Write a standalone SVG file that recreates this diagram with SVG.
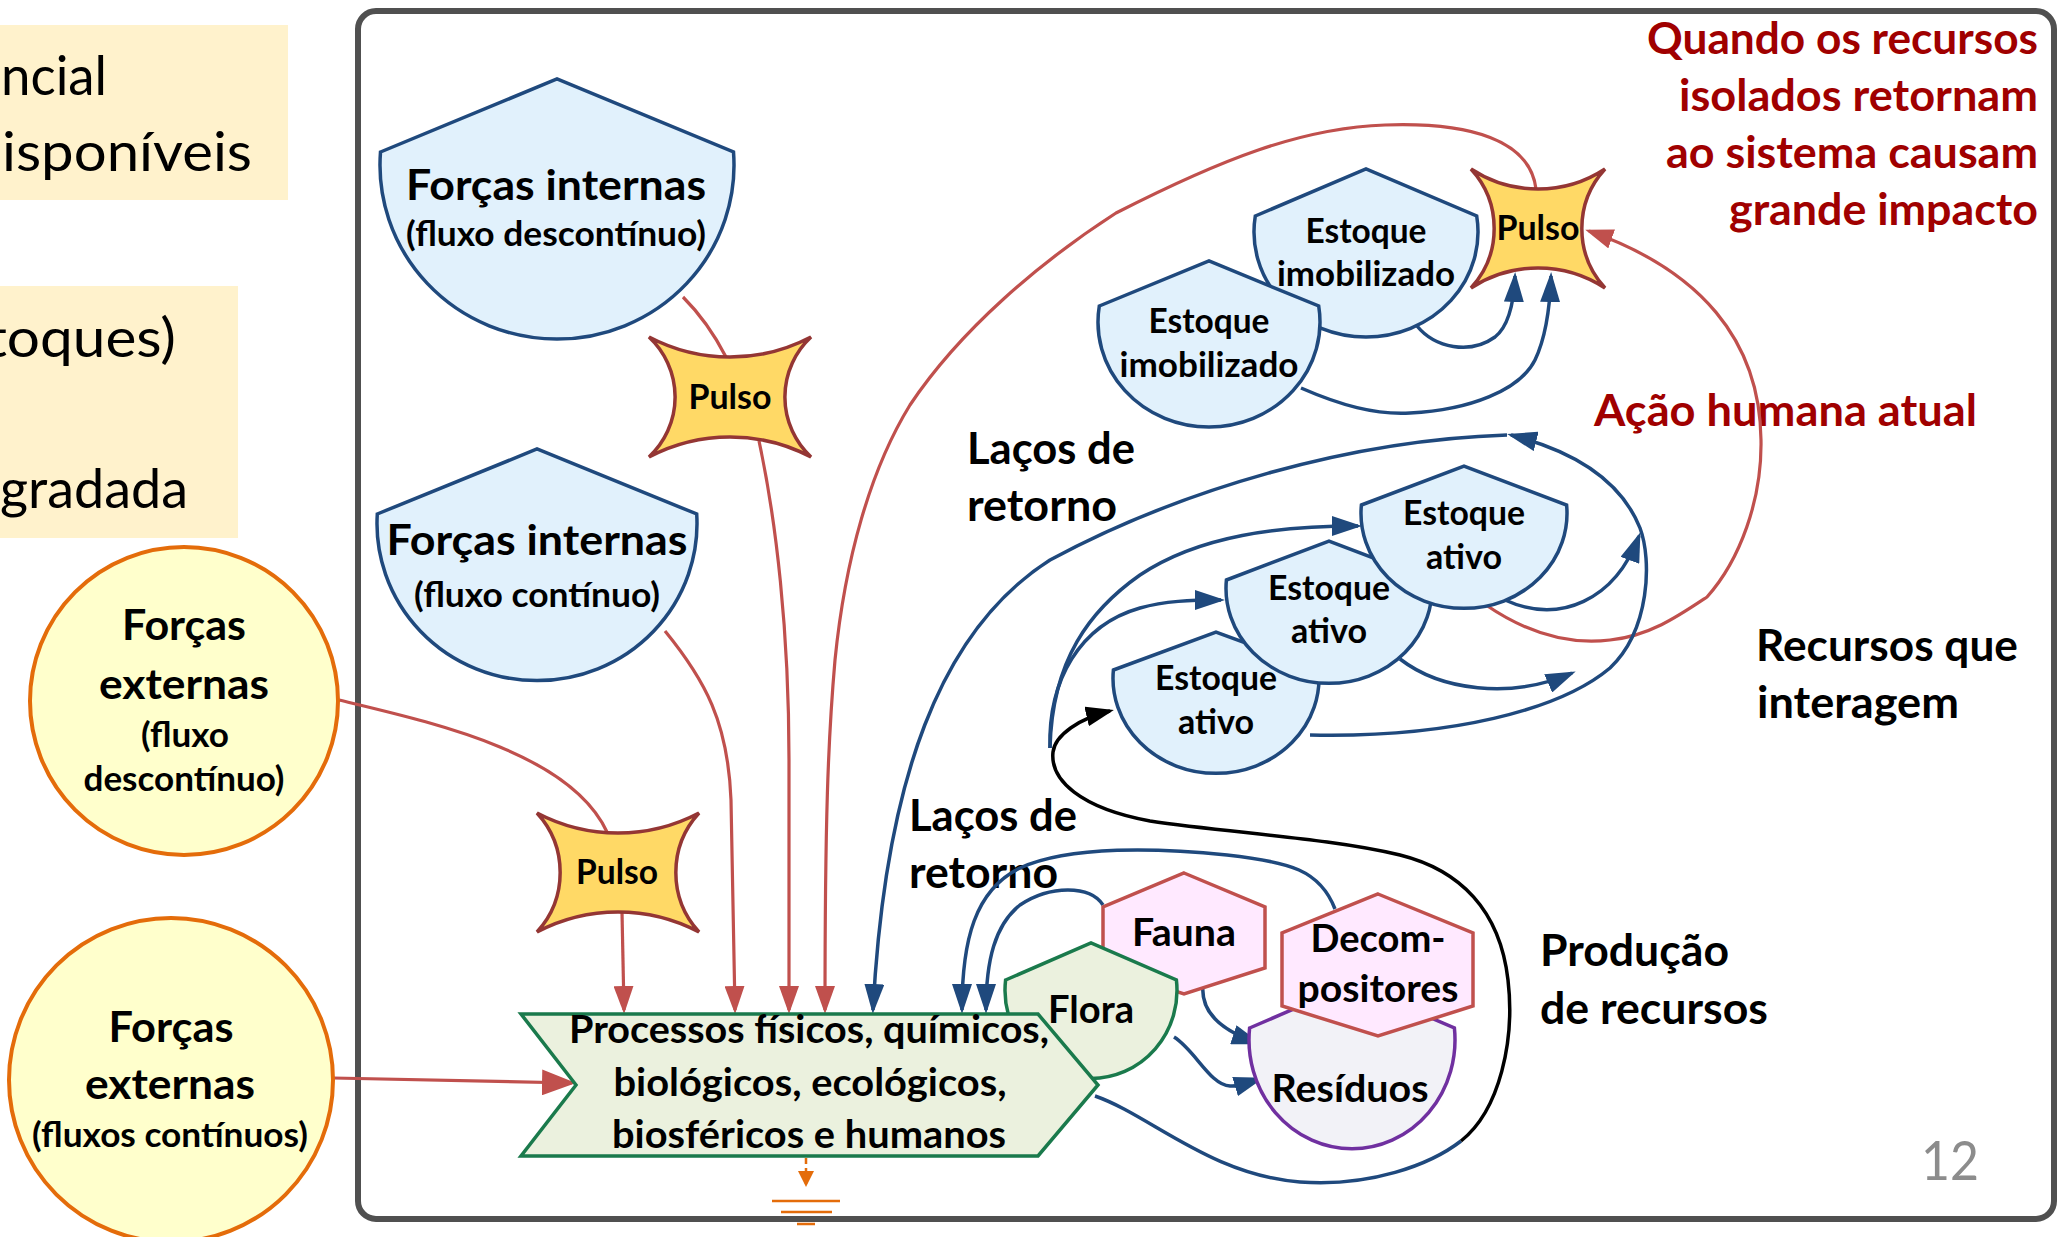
<svg xmlns="http://www.w3.org/2000/svg" width="2059" height="1237" viewBox="0 0 2059 1237">
  <defs>
    <style>
      .t { font-family: Lato, 'Open Sans', 'Liberation Sans', sans-serif; font-weight: 700; fill: #000; }
      .reg { font-family: Lato, 'Open Sans', 'Liberation Sans', sans-serif; font-weight: 400; fill: #000; }
      .lbl { font-size: 44px; }
      .s41 { font-size: 42.5px; }
      .s38 { font-size: 39px; }
      .s37 { font-size: 38.5px; }
      .s33 { font-size: 34.5px; }
      .dark-red { fill: #A00000; }
      .blueNode { fill: #E1F1FC; stroke: #1F497D; stroke-width: 3.5; }
      .extNode { fill: #FFFFCC; stroke: #E46C0A; stroke-width: 4; }
      .pulse { fill: #FFD966; stroke: #943634; stroke-width: 3.5; stroke-linejoin: miter; }
      .greenNode { fill: #EBF1DE; stroke: #1A7A4C; stroke-width: 3.5; }
      .pinkNode { fill: #FFE9FF; stroke: #C0504D; stroke-width: 3.5; }
      .wasteNode { fill: #F2F2F7; stroke: #7030A0; stroke-width: 3.5; }
      .note { fill: #FFF2CC; }
      .red { fill: none; stroke: #C0504D; stroke-width: 3.2; }
      .blue { fill: none; stroke: #1F497D; stroke-width: 3.5; }
      .black { fill: none; stroke: #000; stroke-width: 3.5; }
      .orange { fill: none; stroke: #E46C0A; stroke-width: 2.5; }
    </style>
    <marker id="aR" viewBox="0 0 28 20" markerWidth="28" markerHeight="20" refX="24" refY="10" orient="auto" markerUnits="userSpaceOnUse">
      <path d="M0,0 L28,10 L0,20 Z" fill="#C0504D"/>
    </marker>
    <marker id="aRbig" viewBox="0 0 34 26" markerWidth="34" markerHeight="26" refX="30" refY="13" orient="auto" markerUnits="userSpaceOnUse">
      <path d="M0,0 L34,13 L0,26 Z" fill="#C0504D"/>
    </marker>
    <marker id="aB" viewBox="0 0 30 20" markerWidth="30" markerHeight="20" refX="26" refY="10" orient="auto" markerUnits="userSpaceOnUse">
      <path d="M0,0 L30,10 L0,20 Z" fill="#1F497D"/>
    </marker>
    <marker id="aK" viewBox="0 0 28 20" markerWidth="28" markerHeight="20" refX="24" refY="10" orient="auto" markerUnits="userSpaceOnUse">
      <path d="M0,0 L28,10 L0,20 Z" fill="#000"/>
    </marker>
    <marker id="aO" viewBox="0 0 16 16" markerWidth="16" markerHeight="16" refX="14" refY="8" orient="auto" markerUnits="userSpaceOnUse">
      <path d="M0,0 L16,8 L0,16 Z" fill="#E46C0A"/>
    </marker>
  </defs>

  <rect width="2059" height="1237" fill="#fff"/>

  <!-- side notes, cut by the left edge -->
  <g id="side-notes">
    <rect class="note" x="0" y="25" width="288" height="175"/>
    <rect class="note" x="0" y="286" width="238" height="252"/>
    <text class="reg" font-size="54" x="1" y="95" textLength="106" lengthAdjust="spacingAndGlyphs">ncial</text>
    <text class="reg" font-size="54" x="2" y="171" textLength="250" lengthAdjust="spacingAndGlyphs">isponíveis</text>
    <text class="reg" font-size="54" x="-14" y="357" textLength="190" lengthAdjust="spacingAndGlyphs">toques)</text>
    <text class="reg" font-size="54" x="0" y="508" textLength="188" lengthAdjust="spacingAndGlyphs">gradada</text>
  </g>

  <!-- system boundary -->
  <rect id="frame" x="358" y="11" width="1696" height="1208" rx="18" fill="none" stroke="#505050" stroke-width="6"/>

  <!-- free labels -->
  <g id="labels">
    <text class="t lbl" x="967" y="464" textLength="168" lengthAdjust="spacingAndGlyphs">Laços de</text>
    <text class="t lbl" x="967" y="521" textLength="150" lengthAdjust="spacingAndGlyphs">retorno</text>
    <text class="t lbl" x="909" y="831" textLength="168" lengthAdjust="spacingAndGlyphs">Laços de</text>
    <text class="t lbl" x="909" y="888" textLength="149" lengthAdjust="spacingAndGlyphs">retorno</text>
    <text class="t lbl" x="1756" y="661" textLength="262" lengthAdjust="spacingAndGlyphs">Recursos que</text>
    <text class="t lbl" x="1757" y="718" textLength="202" lengthAdjust="spacingAndGlyphs">interagem</text>
    <text class="t lbl" x="1540" y="966" textLength="189" lengthAdjust="spacingAndGlyphs">Produção</text>
    <text class="t lbl" x="1540" y="1024" textLength="228" lengthAdjust="spacingAndGlyphs">de recursos</text>
    <text class="t lbl dark-red" x="2038" y="54" text-anchor="end" textLength="391" lengthAdjust="spacingAndGlyphs">Quando os recursos</text>
    <text class="t lbl dark-red" x="2038" y="111" text-anchor="end" textLength="359" lengthAdjust="spacingAndGlyphs">isolados retornam</text>
    <text class="t lbl dark-red" x="2038" y="168" text-anchor="end" textLength="372" lengthAdjust="spacingAndGlyphs">ao sistema causam</text>
    <text class="t lbl dark-red" x="2038" y="225" text-anchor="end" textLength="309" lengthAdjust="spacingAndGlyphs">grande impacto</text>
    <text class="t lbl dark-red" x="1594" y="426" textLength="383" lengthAdjust="spacingAndGlyphs">Ação humana atual</text>
    <text class="reg" font-size="54" style="fill:#8C8C8C" x="1921" y="1180" textLength="58" lengthAdjust="spacingAndGlyphs">12</text>
  </g>

  <!-- flows -->
  <g id="connectors">
    <!-- energy inputs (red) -->
    <path class="red" d="M683,297 Q708,322 726,357"/>
    <path class="red" d="M759,441 C776,520 789,630 789,760 L789,1010" marker-end="url(#aR)"/>
    <path class="red" d="M665,631 C705,680 728,722 731,800 L735,1010" marker-end="url(#aR)"/>
    <path class="red" d="M339,700 C430,722 570,752 607,832"/>
    <path class="red" d="M622,912 L624,1010" marker-end="url(#aR)"/>
    <path class="red" d="M333,1078 L572,1083" marker-end="url(#aRbig)"/>
    <path class="red" d="M1536,189 C1530,140 1470,122 1385,125 C1300,128 1220,160 1116,213 C1040,262 960,330 910,405 C870,470 845,560 835,660 C828,740 825,820 825,1010" marker-end="url(#aR)"/>
    <path class="red" d="M1486,605 C1530,635 1570,645 1610,640 C1650,636 1680,615 1707,597 C1740,560 1762,500 1761,440 C1760,340 1700,270 1589,231" marker-end="url(#aR)"/>

    <!-- feedback loops (blue) -->
    <path class="blue" d="M1507,435 C1350,440 1180,490 1050,560 C940,630 885,780 873,1010" marker-end="url(#aB)"/>
    <path class="blue" d="M1310,735 C1450,738 1560,710 1610,668 C1650,630 1652,560 1640,528 C1620,478 1570,450 1511,435" marker-end="url(#aB)"/>
    <path class="blue" d="M1505,600 C1560,625 1615,600 1639,536" marker-end="url(#aB)"/>
    <path class="blue" d="M1400,659 C1440,690 1510,700 1572,673" marker-end="url(#aB)"/>
    <path class="blue" d="M1050,748 C1048,680 1080,625 1140,608 C1165,601 1190,600 1221,600" marker-end="url(#aB)"/>
    <path class="blue" d="M1050,748 C1052,660 1090,610 1140,575 C1200,535 1280,526 1358,526" marker-end="url(#aB)"/>
    <path class="blue" d="M1417,326 C1435,348 1470,355 1495,337 C1510,325 1514,300 1515,276" marker-end="url(#aB)"/>
    <path class="blue" d="M1301,388 C1340,405 1375,415 1410,413 C1470,410 1520,390 1535,360 C1547,335 1550,305 1551,276" marker-end="url(#aB)"/>
    <path class="blue" d="M1103,905 C1090,885 1050,885 1020,905 C995,925 986,960 986,1010" marker-end="url(#aB)"/>
    <path class="blue" d="M1335,909 C1320,870 1290,862 1227,855 C1160,848 1070,845 1020,868 C975,890 962,940 962,1010" marker-end="url(#aB)"/>
    <path class="blue" d="M1203,985 C1200,1015 1225,1032 1258,1043" marker-end="url(#aB)"/>
    <path class="blue" d="M1174,1037 C1195,1050 1210,1085 1230,1086 C1240,1087 1250,1082 1260,1079" marker-end="url(#aB)"/>
    <path class="blue" d="M1095,1096 C1150,1115 1210,1175 1300,1182 C1370,1187 1430,1165 1461,1141"/>

    <!-- resource production (black) -->
    <path class="black" d="M1461,1141 C1500,1110 1515,1040 1508,980 C1500,910 1460,870 1400,855 C1330,838 1230,833 1150,821 C1080,808 1050,780 1053,752 C1055,735 1080,718 1110,711" marker-end="url(#aK)"/>

    <!-- heat sink -->
    <path class="orange" d="M806,1158 L806,1185" stroke-dasharray="6,4" marker-end="url(#aO)"/>
    <path class="orange" d="M772,1201 H840 M781,1212 H832 M797,1224 H815"/>
  </g>

  <!-- external sources -->
  <g id="ext-discontinuous">
    <circle class="extNode" cx="184" cy="701" r="154"/>
    <text class="t s41" x="184" y="640" text-anchor="middle" textLength="124" lengthAdjust="spacingAndGlyphs">Forças</text>
    <text class="t s41" x="184" y="699" text-anchor="middle" textLength="170" lengthAdjust="spacingAndGlyphs">externas</text>
    <text class="t s33" x="185" y="747" text-anchor="middle" textLength="88" lengthAdjust="spacingAndGlyphs">(fluxo</text>
    <text class="t s33" x="184" y="791" text-anchor="middle" textLength="201" lengthAdjust="spacingAndGlyphs">descontínuo)</text>
  </g>
  <g id="ext-continuous">
    <circle class="extNode" cx="171" cy="1080" r="162"/>
    <text class="t s41" x="171" y="1042" text-anchor="middle" textLength="125" lengthAdjust="spacingAndGlyphs">Forças</text>
    <text class="t s41" x="170" y="1099" text-anchor="middle" textLength="170" lengthAdjust="spacingAndGlyphs">externas</text>
    <text class="t s33" x="170" y="1147" text-anchor="middle" textLength="276" lengthAdjust="spacingAndGlyphs">(fluxos contínuos)</text>
  </g>

  <!-- internal sources -->
  <g id="int-discontinuous">
    <path class="blueNode" d="M380.5,152 L557,79 L733.5,152 A177,174 0 1 1 380.5,152 Z"/>
    <text class="t s41" x="556" y="200" text-anchor="middle" textLength="300" lengthAdjust="spacingAndGlyphs">Forças internas</text>
    <text class="t s33" x="556" y="246" text-anchor="middle" textLength="300" lengthAdjust="spacingAndGlyphs">(fluxo descontínuo)</text>
  </g>
  <g id="int-continuous">
    <path class="blueNode" d="M377.3,514 L537,449 L696.7,514 A160,157 0 1 1 377.3,514 Z"/>
    <text class="t s41" x="537" y="555" text-anchor="middle" textLength="301" lengthAdjust="spacingAndGlyphs">Forças internas</text>
    <text class="t s33" x="537" y="607" text-anchor="middle" textLength="246" lengthAdjust="spacingAndGlyphs">(fluxo contínuo)</text>
  </g>

  <!-- pulses -->
  <g id="pulse-1">
    <path class="pulse" d="M649,337 A174,174 0 0 0 811,337 A82,82 0 0 0 811,457 A174,174 0 0 0 649,457 A82,82 0 0 0 649,337 Z"/>
    <text class="t s33" x="730" y="409" text-anchor="middle" textLength="83" lengthAdjust="spacingAndGlyphs">Pulso</text>
  </g>
  <g id="pulse-2">
    <path class="pulse" d="M537,813 A174,174 0 0 0 699,813 A88,88 0 0 0 699,932 A174,174 0 0 0 537,932 A88,88 0 0 0 537,813 Z"/>
    <text class="t s33" x="617" y="884" text-anchor="middle" textLength="82" lengthAdjust="spacingAndGlyphs">Pulso</text>
  </g>
  <g id="pulse-3">
    <path class="pulse" d="M1471,169 A122,122 0 0 0 1605,169 A88,88 0 0 0 1605,288 A122,122 0 0 0 1471,288 A88,88 0 0 0 1471,169 Z"/>
    <text class="t s33" x="1538" y="240" text-anchor="middle" textLength="83" lengthAdjust="spacingAndGlyphs">Pulso</text>
  </g>

  <!-- immobilised stocks -->
  <g id="stock-immobilised-1">
    <path class="blueNode" d="M1255.3,216 L1366,169 L1476.7,216 A112,105 0 1 1 1255.3,216 Z"/>
    <text class="t s33" x="1366" y="243" text-anchor="middle" textLength="121" lengthAdjust="spacingAndGlyphs">Estoque</text>
    <text class="t s33" x="1366" y="286" text-anchor="middle" textLength="178" lengthAdjust="spacingAndGlyphs">imobilizado</text>
  </g>
  <g id="stock-immobilised-2">
    <path class="blueNode" d="M1099.3,306 L1209,261 L1318.7,306 A111,105 0 1 1 1099.3,306 Z"/>
    <text class="t s33" x="1209" y="333" text-anchor="middle" textLength="121" lengthAdjust="spacingAndGlyphs">Estoque</text>
    <text class="t s33" x="1209" y="377" text-anchor="middle" textLength="179" lengthAdjust="spacingAndGlyphs">imobilizado</text>
  </g>

  <!-- active stocks -->
  <g id="stock-active-3">
    <path class="blueNode" d="M1113.4,670 L1216,632 L1318.6,670 A103,95 0 1 1 1113.4,670 Z"/>
    <text class="t s33" x="1216" y="690" text-anchor="middle" textLength="122" lengthAdjust="spacingAndGlyphs">Estoque</text>
    <text class="t s33" x="1216" y="734" text-anchor="middle" textLength="76" lengthAdjust="spacingAndGlyphs">ativo</text>
  </g>
  <g id="stock-active-2">
    <path class="blueNode" d="M1226.4,580 L1329,541 L1431.6,580 A103,95 0 1 1 1226.4,580 Z"/>
    <text class="t s33" x="1329" y="600" text-anchor="middle" textLength="122" lengthAdjust="spacingAndGlyphs">Estoque</text>
    <text class="t s33" x="1329" y="643" text-anchor="middle" textLength="76" lengthAdjust="spacingAndGlyphs">ativo</text>
  </g>
  <g id="stock-active-1">
    <path class="blueNode" d="M1361.4,505 L1464,466 L1566.6,505 A103,95 0 1 1 1361.4,505 Z"/>
    <text class="t s33" x="1464" y="525" text-anchor="middle" textLength="122" lengthAdjust="spacingAndGlyphs">Estoque</text>
    <text class="t s33" x="1464" y="569" text-anchor="middle" textLength="76" lengthAdjust="spacingAndGlyphs">ativo</text>
  </g>

  <!-- biota -->
  <g id="fauna">
    <path class="pinkNode" d="M1184,873 L1265,907 L1265,968 L1184,994 L1103,968 L1103,907 Z"/>
    <text class="t s37" x="1184" y="946" text-anchor="middle" textLength="104" lengthAdjust="spacingAndGlyphs">Fauna</text>
  </g>
  <g id="residuos">
    <path class="wasteNode" d="M1249.6,1028 L1352,984 L1454.4,1028 A103,109 0 1 1 1249.6,1028 Z"/>
    <text class="t s37" x="1350" y="1102" text-anchor="middle" textLength="157" lengthAdjust="spacingAndGlyphs">Resíduos</text>
  </g>
  <g id="decompositores">
    <path class="pinkNode" d="M1378,894 L1473,933 L1473,1006 L1378,1036 L1282,1006 L1282,933 Z"/>
    <text class="t s37" x="1378" y="952" text-anchor="middle" textLength="135" lengthAdjust="spacingAndGlyphs">Decom-</text>
    <text class="t s37" x="1378" y="1002" text-anchor="middle" textLength="161" lengthAdjust="spacingAndGlyphs">positores</text>
  </g>
  <g id="flora">
    <path class="greenNode" d="M1005.6,980 L1091,943 L1176.4,980 A86,88 0 1 1 1005.6,980 Z"/>
  </g>

  <!-- processes -->
  <g id="processos">
    <path class="greenNode" d="M521,1014 L1038,1014 L1098,1085 L1038,1156 L521,1156 L576,1085 Z"/>
    <text class="t s38" x="809" y="1043" text-anchor="middle" textLength="480" lengthAdjust="spacingAndGlyphs">Processos físicos, químicos,</text>
    <text class="t s38" x="810" y="1096" text-anchor="middle" textLength="393" lengthAdjust="spacingAndGlyphs">biológicos, ecológicos,</text>
    <text class="t s38" x="809" y="1148" text-anchor="middle" textLength="394" lengthAdjust="spacingAndGlyphs">biosféricos e humanos</text>
  </g>
  <g id="flora-label">
    <text class="t s37" x="1091" y="1023" text-anchor="middle" textLength="86" lengthAdjust="spacingAndGlyphs">Flora</text>
  </g>
</svg>
